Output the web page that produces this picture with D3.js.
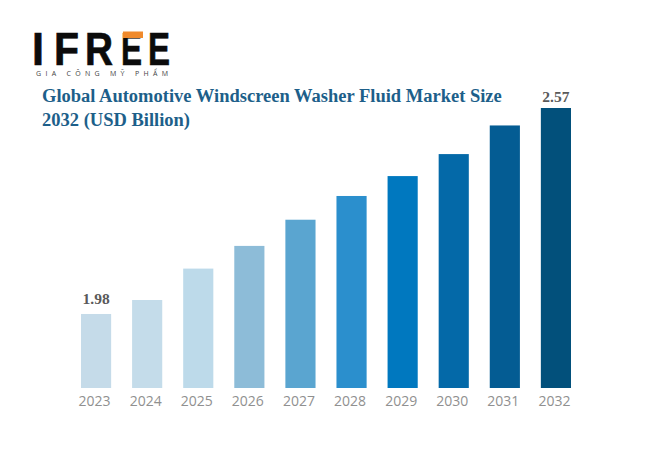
<!DOCTYPE html>
<html>
<head>
<meta charset="utf-8">
<script src="https://cdn.jsdelivr.net/npm/d3@7"></script>
<style>
  html, body { margin: 0; padding: 0; background: #fff; }
  svg { display: block; }
</style>
</head>
<body>
<svg id="chart" width="650" height="450"></svg>
<script>
// values, only the first and last are printed in the original
const years = ["2023","2024","2025","2026","2027","2028","2029","2030","2031","2032"];
const marketSize = [1.98, 2.02, 2.11, 2.175, 2.25, 2.318, 2.375, 2.438, 2.52, 2.57];
const barColors = ["#c5dbe9","#c4dcea","#bddaea","#8dbcd8","#5aa5d0","#2b8fcd","#0078bf","#0469a8","#045c93","#02507b"];
const labelledYears = ["2023","2032"];
const titleLines = ["Global Automotive Windscreen Washer Fluid Market Size","2032 (USD Billion)"];
const logoLetters = ["I","F","R","E","E"];

const svg = d3.select("#chart");

// axis does not start at zero in the original
const x = d3.scaleBand().domain(years).range([81, 571]).paddingInner(0.41).paddingOuter(0);
const y = d3.scaleLinear().domain([1.768, 2.57]).range([388, 108]);

// bars
svg.selectAll("rect.bar")
  .data(years)
  .join("rect")
  .attr("class", "bar")
  .attr("x", d => x(d))
  .attr("width", x.bandwidth())
  .attr("y", (d, i) => y(marketSize[i]))
  .attr("height", (d, i) => y.range()[0] - y(marketSize[i]))
  .attr("fill", (d, i) => barColors[i]);

// year labels
const axis = svg.append("g")
  .attr("transform", "translate(-1.5,388)")
  .call(d3.axisBottom(x).tickSize(0).tickPadding(8.5));
axis.select(".domain").remove();
axis.selectAll("text")
  .attr("font-family", "'Open Sans', sans-serif")
  .attr("font-size", 14)
  .attr("fill", "#909090");

// first and last value labels, the last one sits closer to its bar
svg.selectAll("text.value")
  .data(labelledYears)
  .join("text")
  .attr("class", "value")
  .attr("x", d => x(d) + x.bandwidth() / 2)
  .attr("y", d => y(marketSize[years.indexOf(d)]) - (d === "2032" ? 6 : 9.5))
  .attr("text-anchor", "middle")
  .attr("font-family", "'Liberation Serif', serif")
  .attr("font-weight", "bold")
  .attr("font-size", 15.5)
  .attr("fill", "#5a5a5a")
  .text(d => marketSize[years.indexOf(d)].toFixed(2));

// title
svg.selectAll("text.title")
  .data(titleLines)
  .join("text")
  .attr("class", "title")
  .attr("x", 42)
  .attr("y", (d, i) => 102 + i * 24)
  .attr("font-family", "'Liberation Serif', serif")
  .attr("font-weight", "bold")
  .attr("font-size", 18.5)
  .attr("fill", "#1d5f8a")
  .text(d => d);

// logo, each letter squeezed to the width it has in the wordmark
const logoX = [32, 54, 85, 121, 148];
const logoW = [12, 25, 28, 21, 22];
const logo = svg.append("g");
logo.selectAll("text")
  .data(logoLetters)
  .join("text")
  .attr("x", (d, i) => logoX[i])
  .attr("y", 65)
  .attr("textLength", (d, i) => logoW[i])
  .attr("lengthAdjust", "spacingAndGlyphs")
  .attr("font-family", "'Liberation Sans', sans-serif")
  .attr("font-weight", "bold")
  .attr("font-size", 46)
  .attr("fill", "#0b0b0b")
  .attr("stroke", "#0b0b0b")
  .attr("stroke-width", 0.7)
  .text(d => d);
logo.append("rect")
  .attr("x", 123).attr("y", 31.5)
  .attr("width", 20).attr("height", 6.5)
  .attr("fill", "#f08a2c");
logo.append("text")
  .attr("x", 36)
  .attr("y", 76)
  .attr("font-family", "'Open Sans', sans-serif")
  .attr("font-size", 7)
  .attr("letter-spacing", 4.3)
  .attr("fill", "#444")
  .text("GIA CÔNG MỸ PHẨM");
</script>
</body>
</html>
